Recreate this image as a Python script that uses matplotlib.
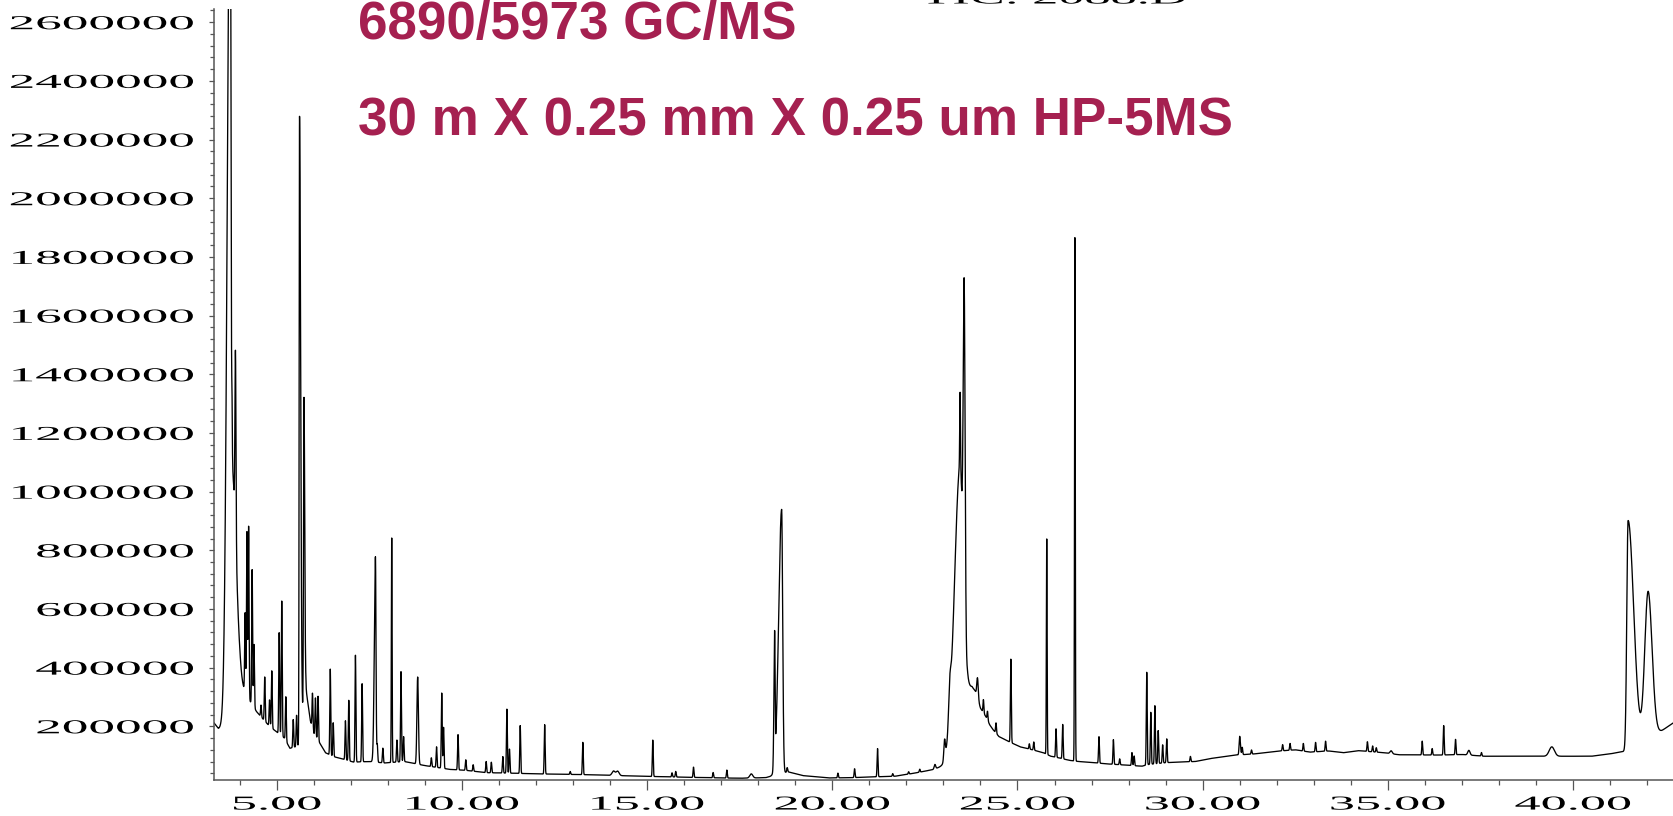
import numpy as np
import matplotlib
matplotlib.use("Agg")
import matplotlib.pyplot as plt
from matplotlib.ticker import MultipleLocator, FormatStrFormatter
from matplotlib.patheffects import AbstractPathEffect
from matplotlib.transforms import Affine2D

# baseline read from the valleys of the TIC (min, abundance)
base_t = [3.28, 3.42, 3.60, 3.80, 4.00, 4.10, 4.25, 4.45, 4.60, 4.80, 5.00, 5.20,
          5.35, 5.50, 5.62, 5.78, 5.90, 6.00, 6.17, 6.31, 6.52, 6.79, 7.07, 7.50,
          7.90, 8.44, 9.00, 9.68, 10.10, 10.65, 11.40, 12.00, 13.40, 14.80, 16.20,
          17.50, 18.20, 18.80, 19.20, 19.90, 20.50, 21.70, 22.20, 22.70, 23.00,
          23.30, 23.55, 23.65, 23.77, 23.86, 24.00, 24.15, 24.25, 24.33, 24.50,
          24.70, 25.07, 25.40, 25.70, 25.90, 26.13, 26.40, 26.65, 27.00, 27.40,
          27.90, 28.36, 28.55, 29.00, 29.30, 29.80, 30.20, 30.90, 31.40, 32.00,
          32.50, 32.90, 33.40, 33.80, 34.20, 34.90, 35.30, 36.40, 37.00, 37.60,
          40.50, 41.00, 41.40, 42.40, 42.75]
base_y = [215e3, 192e3, 200e3, 260e3, 330e3, 320e3, 290e3, 250e3, 228e3, 200e3, 180e3, 160e3,
          125e3, 130e3, 140e3, 330e3, 220e3, 175e3, 140e3, 110e3, 97e3, 88e3, 78e3, 80e3,
          75e3, 80e3, 66e3, 53e3, 50e3, 42e3, 40e3, 38e3, 35e3, 30e3, 26e3,
          23e3, 25e3, 45e3, 32e3, 24e3, 25e3, 30e3, 40e3, 52e3, 65e3,
          110e3, 250e3, 330e3, 335e3, 320e3, 262e3, 232e3, 205e3, 190e3, 165e3,
          152e3, 130e3, 120e3, 110e3, 98e3, 92e3, 84e3, 80e3, 77e3, 72e3,
          68e3, 64e3, 70e3, 76e3, 78e3, 80e3, 90e3, 102e3, 106e3, 115e3,
          120e3, 112e3, 116e3, 110e3, 117e3, 110e3, 103e3, 102e3, 104e3, 98e3,
          98e3, 106e3, 115e3, 185e3, 215e3]

# peaks: retention time (min), height above baseline, left / right width (min)
peak_rt = [3.74, 3.79, 3.88, 4.14, 4.19, 4.235, 4.33, 4.38, 4.57, 4.67, 4.80, 4.86,
           5.06, 5.13, 5.24, 5.44, 5.53, 5.61, 5.73, 5.96, 6.04, 6.11, 6.44, 6.52,
           6.85, 6.94, 7.12, 7.30, 7.66, 7.71, 7.86, 8.10, 8.24, 8.35, 8.42, 8.80,
           9.17, 9.31, 9.45, 9.50, 9.89, 10.10, 10.30, 10.65, 10.79, 11.10, 11.21, 11.28,
           11.57, 12.23, 12.92, 13.26, 14.09, 14.20, 15.15, 15.67, 15.77, 16.25, 16.78, 17.15,
           17.81, 18.44, 18.63, 18.78, 20.15, 20.60, 21.22, 21.63, 22.06, 22.36, 22.77,
           23.03, 23.17, 23.44, 23.45, 23.56, 23.92, 24.08, 24.19, 24.42, 24.82,
           25.32, 25.44, 25.79, 26.04, 26.22, 26.55, 27.20, 27.59, 27.76, 28.09, 28.15,
           28.49, 28.60, 28.71, 28.80, 28.92, 29.03, 29.67, 31.00, 31.07, 31.32,
           32.16, 32.36, 32.72, 33.05, 33.32, 34.45, 34.59, 34.69, 35.09, 35.93, 36.20,
           36.51, 36.83, 37.19, 37.53, 39.43, 41.49, 42.03]
peak_h = [3000e3, 800e3, 620e3, 270e3, 560e3, 590e3, 460e3, 215e3, 40e3, 150e3, 90e3, 195e3,
          345e3, 460e3, 150e3, 95e3, 105e3, 2140e3, 1050e3, 120e3, 130e3, 150e3, 293e3, 115e3,
          133e3, 206e3, 364e3, 266e3, 700e3, 60e3, 50e3, 765e3, 75e3, 307e3, 85e3, 297e3,
          30e3, 70e3, 256e3, 140e3, 120e3, 36e3, 22e3, 38e3, 36e3, 56e3, 218e3, 82e3,
          163e3, 168e3, 10e3, 110e3, 15e3, 15e3, 124e3, 14e3, 19e3, 35e3, 18e3, 27e3,
          14e3, 440e3, 900e3, 15e3, 16e3, 30e3, 96e3, 9e3, 8e3, 10e3, 15e3,
          65e3, 100e3, 900e3, 250e3, 1095e3, 70e3, 45e3, 30e3, 35e3, 284e3,
          18e3, 28e3, 734e3, 97e3, 117e3, 1784e3, 90e3, 84e3, 20e3, 44e3, 33e3,
          316e3, 177e3, 198e3, 112e3, 62e3, 81e3, 18e3, 63e3, 25e3, 14e3,
          21e3, 23e3, 26e3, 32e3, 34e3, 33e3, 20e3, 15e3, 10e3, 47e3, 22e3,
          100e3, 52e3, 16e3, 12e3, 32e3, 780e3, 500e3]
w0 = 0.012
peak_wl = [0.08, 0.012, 0.014, w0, w0, w0, w0, w0, w0, w0, w0, w0,
           w0, w0, w0, w0, w0, 0.010, w0, w0, w0, w0, w0, w0,
           w0, w0, w0, w0, 0.03, w0, w0, 0.010, w0, w0, w0, 0.02,
           w0, w0, w0, w0, w0, w0, w0, w0, w0, w0, w0, w0,
           w0, w0, w0, w0, 0.04, 0.04, w0, w0, w0, w0, w0, w0,
           0.04, 0.018, 0.08, w0, w0, w0, w0, w0, w0, w0, 0.02,
           0.02, 0.03, 0.15, 0.010, 0.025, 0.02, w0, w0, w0, w0,
           w0, w0, 0.010, w0, w0, 0.010, w0, w0, w0, w0, w0,
           w0, w0, w0, w0, w0, w0, w0, 0.015, w0, w0,
           w0, w0, w0, w0, w0, w0, w0, w0, 0.03, w0, w0,
           w0, w0, 0.03, w0, 0.07, 0.035, 0.09]
peak_wr = [0.022, 0.11, 0.014, w0, w0, w0, w0, w0, w0, w0, w0, w0,
           w0, w0, w0, w0, w0, 0.03, 0.02, w0, w0, w0, w0, w0,
           w0, w0, w0, w0, 0.015, w0, w0, 0.010, w0, w0, w0, 0.02,
           w0, w0, w0, w0, w0, w0, w0, w0, w0, w0, w0, w0,
           w0, w0, w0, w0, 0.04, 0.04, w0, w0, w0, w0, w0, w0,
           0.04, 0.012, 0.028, w0, w0, w0, w0, w0, w0, w0, 0.02,
           0.02, 0.03, 0.09, 0.010, 0.025, 0.02, w0, w0, w0, w0,
           w0, w0, 0.010, w0, w0, 0.010, w0, w0, w0, w0, w0,
           w0, w0, w0, w0, w0, w0, w0, 0.02, w0, w0,
           w0, w0, w0, w0, w0, w0, w0, w0, 0.03, w0, w0,
           w0, w0, 0.03, w0, 0.07, 0.15, 0.107]

title1 = "6890/5973 GC/MS"
title2 = "30 m X 0.25 mm X 0.25 um HP-5MS"
file_label = "TIC: 2088.D"
red = "#A52050"


class Stretch(AbstractPathEffect):
    # widen the glyphs horizontally (the original export uses a very wide serif)
    def __init__(self, sx, anchor="center"):
        super().__init__()
        self.sx = sx
        self.anchor = anchor

    def draw_path(self, renderer, gc, tpath, affine, rgbFace=None):
        ext = tpath.transformed(affine).get_extents()
        x0 = {"left": ext.x0, "right": ext.x1, "center": 0.5 * (ext.x0 + ext.x1)}[self.anchor]
        aff = affine + Affine2D().translate(-x0, 0).scale(self.sx, 1).translate(x0, 0)
        renderer.draw_path(gc, tpath, aff, rgbFace)


t = np.arange(3.30, 42.74, 0.002)
signal = np.interp(t, base_t, base_y)
for rt, h, wl, wr in zip(peak_rt, peak_h, peak_wl, peak_wr):
    w = np.where(t < rt, wl, wr)
    signal = signal + h * np.exp(-0.5 * ((t - rt) / w) ** 2)

W, H = 1674, 816
fig = plt.figure(figsize=(W / 100, H / 100), dpi=100)
ax = fig.add_axes([214 / W, 1 - 780 / H, 1 - 214 / W, (780 - 9.3) / H])
ax.plot(t, signal, color="black", lw=0.95)

ax.set_xlim(3.30, 42.73)
ax.set_ylim(17000, 2644000)
for s in ["top", "right"]:
    ax.spines[s].set_visible(False)
for s in ["left", "bottom"]:
    ax.spines[s].set_color("#555555")
    ax.spines[s].set_linewidth(1.1)

ax.xaxis.set_major_locator(MultipleLocator(5))
ax.xaxis.set_minor_locator(MultipleLocator(1))
ax.xaxis.set_major_formatter(FormatStrFormatter("%.2f"))
ax.yaxis.set_major_locator(MultipleLocator(200000))
ax.yaxis.set_minor_locator(MultipleLocator(40000))
ax.yaxis.set_major_formatter(FormatStrFormatter("%d"))

ax.tick_params(axis="x", which="major", length=7.2, width=0.9, color="#555555", pad=4)
ax.tick_params(axis="x", which="minor", length=3.6, width=0.9, color="#555555")
ax.tick_params(axis="y", which="major", length=3.6, width=0.9, color="#555555", pad=11)
ax.tick_params(axis="y", which="minor", length=2.9, width=0.9, color="#555555")

for lbl in ax.get_xticklabels():
    lbl.set_fontfamily("Liberation Serif")
    lbl.set_fontsize(14.2)
    lbl.set_path_effects([Stretch(2.65, "center")])
for lbl in ax.get_yticklabels():
    lbl.set_fontfamily("Liberation Serif")
    lbl.set_fontsize(14.2)
    lbl.set_path_effects([Stretch(2.7, "right")])

fig.text(358 / W, 1 - 38.5 / H, title1, family="Liberation Sans", weight="bold",
         size=38.2, color=red, va="baseline")
fig.text(358 / W, 1 - 135 / H, title2, family="Liberation Sans", weight="bold",
         size=38.2, color=red, va="baseline")
# file name sits mostly above the top edge, as in the exported picture
fig.text(921 / W, 1 - 3.5 / H, file_label, family="Liberation Serif", size=14.2,
         va="baseline", path_effects=[Stretch(2.65, "left")])

fig.savefig("out.png", dpi=100)
